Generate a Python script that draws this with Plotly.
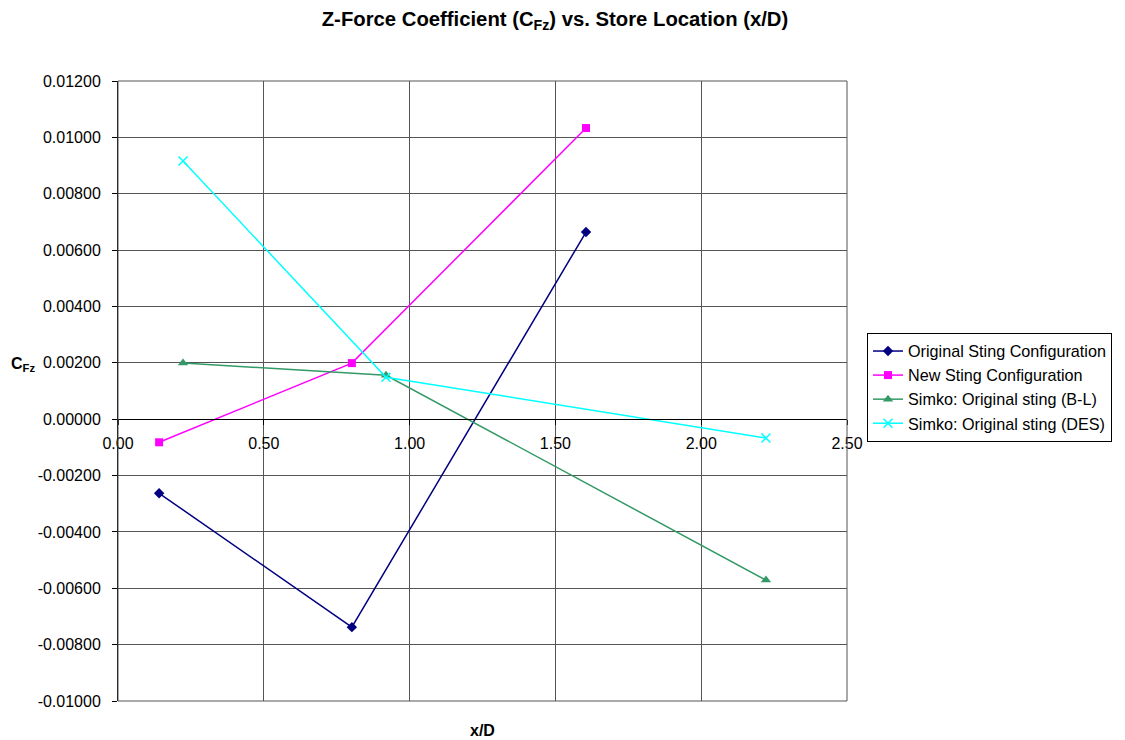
import plotly.graph_objects as go

# Data
orig_x = [0.141, 0.802, 1.605]
orig_y = [-0.00263, -0.00738, 0.00664]
new_x = [0.141, 0.802, 1.605]
new_y = [-0.00082, 0.00199, 0.01033]
bl_x = [0.223, 0.919, 2.222]
bl_y = [0.00199, 0.00156, -0.00571]
des_x = [0.223, 0.919, 2.222]
des_y = [0.00916, 0.00149, -0.00067]

x_ticks = [0.0, 0.5, 1.0, 1.5, 2.0, 2.5]
y_ticks = [-0.010, -0.008, -0.006, -0.004, -0.002, 0.0, 0.002, 0.004, 0.006, 0.008, 0.010, 0.012]

font = "Liberation Sans, Arial, sans-serif"

fig = go.Figure()
fig.add_trace(go.Scatter(x=orig_x, y=orig_y, mode="lines+markers",
                         name="Original Sting Configuration",
                         line=dict(color="#000080", width=1.5),
                         marker=dict(symbol="diamond", size=8, color="#000080")))
fig.add_trace(go.Scatter(x=new_x, y=new_y, mode="lines+markers",
                         name="New Sting Configuration",
                         line=dict(color="#FF00FF", width=1.5),
                         marker=dict(symbol="square", size=8, color="#FF00FF")))
fig.add_trace(go.Scatter(x=bl_x, y=bl_y, mode="lines+markers",
                         name="Simko: Original sting (B-L)",
                         line=dict(color="#339966", width=1.5),
                         marker=dict(symbol="triangle-up", size=9, color="#339966")))
fig.add_trace(go.Scatter(x=des_x, y=des_y, mode="lines+markers",
                         name="Simko: Original sting (DES)",
                         line=dict(color="#00FFFF", width=1.5),
                         marker=dict(symbol="x-thin", size=9,
                                     line=dict(color="#00FFFF", width=1.5))))

ymin, ymax = -0.01, 0.012
W, H = 1117, 732
L, T, R, B = 110, 73, 278, 39
pw, ph = W - L - R, H - T - B

fig.update_layout(
    width=W, height=H,
    paper_bgcolor="white", plot_bgcolor="white",
    margin=dict(l=L, r=R, t=T, b=B, autoexpand=False),
    font=dict(family=font, size=16, color="black"),
    title=dict(text="<b>Z-Force Coefficient (C<sub>Fz</sub>) vs. Store Location (x/D)</b>",
               x=547 / W, xanchor="center", y=1 - 11 / H, yanchor="middle",
               font=dict(size=20.3, family=font)),
    xaxis=dict(range=[0, 2.5], tickvals=x_ticks,
               ticktext=[f"{v:.2f}" for v in x_ticks],
               showgrid=True, gridcolor="#555", gridwidth=1,
               zeroline=False, showline=True, linecolor="black", linewidth=1,
               ticks="outside", ticklen=5, tickcolor="black",
               ticklabelstandoff=5,
               anchor="free", position=(0 - ymin) / (ymax - ymin),
               tickfont=dict(size=16)),
    yaxis=dict(range=[ymin, ymax], tickvals=y_ticks,
               ticktext=[f"{v:.5f}" for v in y_ticks],
               showgrid=True, gridcolor="#555", gridwidth=1,
               zeroline=False, showline=True, linecolor="black", linewidth=1,
               ticks="outside", ticklen=5, tickcolor="black",
               ticklabelstandoff=8,
               tickfont=dict(size=16)),
    legend=dict(x=(859 - L) / pw, y=(693 - 325) / ph, xanchor="left", yanchor="top",
                bordercolor="black", borderwidth=1, bgcolor="white",
                font=dict(size=16.2, family=font), tracegroupgap=0,
                itemwidth=30),
    showlegend=True,
)

fig.add_shape(type="rect", xref="paper", yref="paper", x0=0, y0=0, x1=1, y1=1,
              line=dict(color="#555", width=1))

fig.add_annotation(text="<b>C<sub>Fz</sub></b>", xref="paper", yref="paper",
                   x=(15 - L) / pw, y=(693 - 357) / ph, showarrow=False,
                   xanchor="center", yanchor="middle", font=dict(size=16, family=font))
fig.add_annotation(text="<b>x/D</b>", xref="paper", yref="paper",
                   x=0.5, y=(693 - 722) / ph, showarrow=False,
                   xanchor="center", yanchor="middle", font=dict(size=16, family=font))

fig.write_html("out.html")
